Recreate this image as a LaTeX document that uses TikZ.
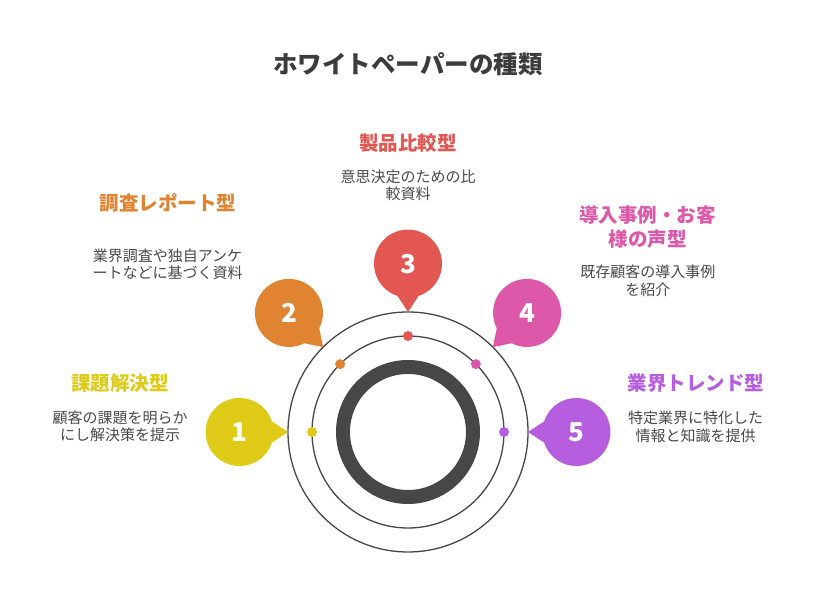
\documentclass[tikz,border=0pt]{standalone}
\usepackage{fontspec}
\setmainfont{Noto Sans CJK JP}
\usetikzlibrary{calc}
\definecolor{cyel}{HTML}{DFCB17}
\definecolor{corg}{HTML}{E08431}
\definecolor{cred}{HTML}{E35752}
\definecolor{cpnk}{HTML}{DD58A8}
\definecolor{cpur}{HTML}{B75DE0}
\definecolor{ctitle}{HTML}{3C3C3C}
\definecolor{cdesc}{HTML}{4A4A4A}
\definecolor{cring}{HTML}{474747}
\tikzset{
  titlebox/.style={font=\fontsize{24.5}{28}\selectfont\bfseries, text=ctitle, inner sep=0pt},
  headbox/.style={font=\fontsize{19.5}{24.5}\selectfont\bfseries, align=center, inner sep=0pt},
  descbox/.style={font=\fontsize{15}{17.6}\selectfont, text=cdesc, align=center, inner sep=0pt},
  bubble/.style={circle, minimum size=68pt, inner sep=0pt, font=\fontsize{26}{26}\selectfont\bfseries, text=white},
  dotnode/.style={circle, minimum size=10pt, inner sep=0pt},
  thinring/.style={draw=cring, line width=1.3pt},
}
\begin{document}
\begin{tikzpicture}[x=1pt,y=1pt]
\useasboundingbox (0,0) rectangle (816,612);
\fill[white] (0,0) rectangle (816,612);
\node[titlebox] (title) at (408,548) {ホワイトペーパーの種類};
% rings
\coordinate (C) at (408,180);
\draw[thinring] (C) circle[radius=120];
\draw[thinring] (C) circle[radius=96];
\draw[draw=cring, line width=14pt] (C) circle[radius=65];
% bubbles, pointers and dots
\foreach \i/\a/\c in {1/180/cyel, 2/135/corg, 3/90/cred, 4/45/cpnk, 5/0/cpur} {
  \coordinate (tip\i) at ($(C)+(\a:120)$);
  \coordinate (bc\i) at ($(C)+(\a:168.4)$);
  \fill[\c] (tip\i) -- ($(bc\i)+(\a+180+18:34)$) -- (bc\i) -- ($(bc\i)+(\a+180-18:34)$) -- cycle;
  \node[bubble, fill=\c] (b\i) at (bc\i) {\i};
  \node[dotnode, fill=\c] (d\i) at ($(C)+(\a:96)$) {};
}
% labels
\node[headbox, text=cred] (h3) at (408,469) {製品比較型};
\node[descbox] (t3) at (408,426.7) {意思決定のための比\\較資料};
\node[headbox, text=corg] (h2) at (168,408.7) {調査レポート型};
\node[descbox] (t2) at (167.5,347.7) {業界調査や独自アンケ\\ートなどに基づく資料};
\node[headbox, text=cpnk] (h4) at (647.5,384.8) {導入事例・お客\\様の声型};
\node[descbox] (t4) at (647.8,331.2) {既存顧客の導入事例\\を紹介};
\node[headbox, text=cyel] (h1) at (120,228.7) {課題解決型};
\node[descbox] (t1) at (120,185.8) {顧客の課題を明らか\\にし解決策を提示};
\node[headbox, text=cpur] (h5) at (696,228.7) {業界トレンド型};
\node[descbox] (t5) at (695.5,185.3) {特定業界に特化した\\情報と知識を提供};
\end{tikzpicture}
\end{document}
